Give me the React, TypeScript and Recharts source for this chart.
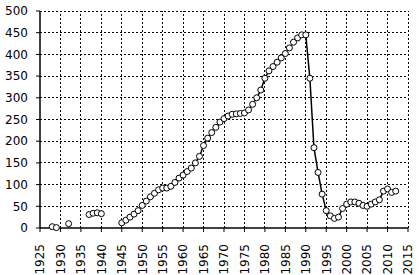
import { LineChart, Line, XAxis, YAxis, ReferenceLine } from 'recharts'

// years with a reading; null marks a break in the record
const years = [
  1928, 1929, 1930, 1932, 1933, 1937, 1938, 1939, 1940, 1941,
  1945, 1946, 1947, 1948, 1949, 1950, 1951, 1952, 1953, 1954,
  1955, 1956, 1957, 1958, 1959, 1960, 1961, 1962, 1963, 1964,
  1965, 1966, 1967, 1968, 1969, 1970, 1971, 1972, 1973, 1974,
  1975, 1976, 1977, 1978, 1979, 1980, 1981, 1982, 1983, 1984,
  1985, 1986, 1987, 1988, 1989, 1990, 1991, 1992, 1993, 1994,
  1995, 1996, 1997, 1998, 1999, 2000, 2001, 2002, 2003, 2004,
  2005, 2006, 2007, 2008, 2009, 2010, 2011, 2012,
]
const values: (number | null)[] = [
  3, 1, null, 10, null, 31, 34, 35, 33, null,
  12, 18, 25, 32, 40, 52, 62, 72, 80, 88,
  92, 92, 96, 105, 115, 122, 130, 138, 150, 165,
  190, 207, 220, 232, 244, 252, 258, 262, 263, 264,
  265, 272, 285, 300, 318, 345, 362, 372, 382, 392,
  402, 415, 428, 438, 445, 445, 345, 185, 128, 78,
  40, 28, 22, 25, 45, 55, 60, 60, 57, 52,
  50, 55, 60, 65, 85, 90, 82, 85,
]

const xTicks = [1925, 1930, 1935, 1940, 1945, 1950, 1955, 1960, 1965, 1970, 1975, 1980, 1985, 1990, 1995, 2000, 2005, 2010, 2015]
const yTicks = [0, 50, 100, 150, 200, 250, 300, 350, 400, 450, 500]

const data = years.map((year, i) => ({ year, value: values[i] }))

const font = 'DejaVu Sans'

const YearTick = (props: { x?: number; y?: number; payload?: { value: number } }) => {
  const { x = 0, y = 0, payload } = props
  return (
    <text
      x={x}
      y={y + 10}
      transform={`rotate(-90, ${x}, ${y + 10})`}
      textAnchor="end"
      dy="0.36em"
      fontSize={12}
      fontFamily={font}
      fill="#000"
    >
      {payload?.value}
    </text>
  )
}

export default function App() {
  return (
    <div style={{ position: 'absolute', left: 0, top: 0, background: '#fff' }}>
      <LineChart width={419} height={275} data={data} margin={{ top: 11, right: 11, left: 0, bottom: 0 }}>
        {/* dotted grid, one line per tick */}
        {xTicks.slice(1).map((t) => (
          <ReferenceLine
            key={`x${t}`}
            x={t}
            stroke="#000"
            strokeWidth={1}
            strokeDasharray="2 2"
            shapeRendering="crispEdges"
          />
        ))}
        {yTicks.slice(1).map((t) => (
          <ReferenceLine
            key={`y${t}`}
            y={t}
            stroke="#000"
            strokeWidth={1}
            strokeDasharray="2 2"
            shapeRendering="crispEdges"
          />
        ))}
        <XAxis
          dataKey="year"
          type="number"
          domain={[1925, 2015]}
          ticks={xTicks}
          interval={0}
          height={47}
          tickSize={4}
          tickLine={{ stroke: '#000' }}
          axisLine={{ stroke: '#000', strokeWidth: 1.5 }}
          tick={<YearTick />}
        />
        <YAxis
          domain={[0, 500]}
          ticks={yTicks}
          interval={0}
          width={40}
          tickSize={4}
          tickMargin={8}
          tickLine={{ stroke: '#000' }}
          axisLine={{ stroke: '#000', strokeWidth: 1.5 }}
          tick={{ fill: '#000', fontSize: 12, fontFamily: font }}
        />
        <Line
          type="linear"
          dataKey="value"
          stroke="#000"
          strokeWidth={1.5}
          dot={{ r: 3, fill: '#fff', stroke: '#000', strokeWidth: 1 }}
          isAnimationActive={false}
        />
      </LineChart>
    </div>
  )
}
